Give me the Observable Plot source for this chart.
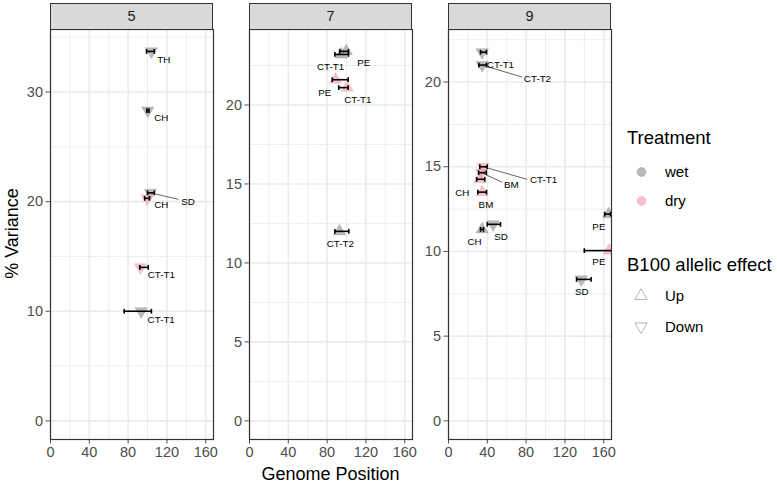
<!DOCTYPE html>
<html><head><meta charset="utf-8">
<script src="https://cdn.jsdelivr.net/npm/d3@7"></script>
<script src="https://cdn.jsdelivr.net/npm/@observablehq/plot@0.6"></script>
<style>
body{margin:0;background:#fff;font-family:"Liberation Sans",Arial,sans-serif;}
#chart{position:relative;width:777px;height:483px;overflow:hidden;background:#fff;}
.abs{position:absolute;}
.strip{position:absolute;background:#d9d9d9;border:1.2px solid #333;box-sizing:border-box;text-align:center;font-size:14.5px;color:#1a1a1a;}
</style></head><body><div id="chart"></div>
<script>
// ---- data ----
const chromosomes = [5, 7, 9];
const traits    = ["TH","CH","SD","CH","CT-T1","CT-T1", "CT-T1","PE","PE","CT-T1","CT-T2", "CT-T1","CT-T2","CT-T1","BM","CH","BM","CH","SD","PE","PE","SD"];
const chrom     = [5,5,5,5,5,5, 7,7,7,7,7, 9,9,9,9,9,9,9,9,9,9,9];
const treatment = ["wet","wet","wet","dry","dry","wet", "wet","wet","dry","dry","wet", "wet","wet","dry","dry","dry","dry","wet","wet","wet","dry","wet"];
const effect    = ["Down","Down","Down","Down","Down","Down", "Up","Up","Up","Up","Up", "Down","Down","Down","Down","Up","Up","Up","Down","Up","Up","Down"];
const position  = [104,100.3,103,99.7,92.8,93.5, 94.5,99.7,88.7,100.7,92.8, 34.7,34.7,35.7,34,32.3,34.7,34.7,46,165,165.5,136.8];
const posLow    = [99,99.3,100,97,92,76, 88,93,85.3,92,88, 33,31.3,32.3,31,29,30.2,33,40,161,140,132];
const posHigh   = [107,101.5,107,102,100.7,104, 102,102,101.7,101.7,102.4, 39.2,39.2,39.9,39,37.4,39.2,36,53.6,167,168.7,147];
const variance  = [33.7,28.3,20.8,20.3,14.0,10.0, 23.2,23.4,21.6,21.1,12.0, 21.76,21.0,15.0,14.65,14.26,13.5,11.3,11.6,12.2,10.05,8.35];
const treatments = ["wet","dry"];
const effects = ["Up","Down"];
const xTicks = [0,40,80,120,160];
const xMinor = [20,60,100,140];
const yTicks = [[0,10,20,30],[0,5,10,15,20],[0,5,10,15,20]];
const yMinor = [[5,15,25,35],[2.5,7.5,12.5,17.5,22.5],[2.5,7.5,12.5,17.5,22.5]];
const xLimit = 168;
const yMax = [34.0, 23.6, 22.0];

// ---- label layout (pixel offsets from point, like ggrepel placement) ----
const labelDx = [12.5,13.5,37.6,14,20.8,20, -10.7,17.6,-10.8,10.6,0.7, 18.3,55.3,60.4,29.8,-17.6,3.8,-7.7,8,-9.7,-10.2,0.5];
const labelDy = [8.2,7.1,8.8,6.7,7.2,8.7, 12.2,12,12.8,11.9,12.7, 12.2,13.3,13.3,12.3,13.7,12.5,12.7,12.5,12.7,11.2,12.3];
const segEnd = {2:[28,6.5], 12:[40,12], 13:[44,12.6], 14:[20.7,9.6]};

// ---- styles ----
const fillColor = {wet:"#8c8c8c", dry:"#ee9aab"};
const FONT = "Liberation Sans, Arial, sans-serif";

const rowsAll = traits.map((t,i)=>({trait:t, chrom:chrom[i], treatment:treatment[i], effect:effect[i],
  x:position[i], lo:posLow[i], hi:posHigh[i], y:variance[i], ldx:labelDx[i], ldy:labelDy[i], seg:segEnd[i]||null}));

const downTri = {draw(ctx, size){ const y = -Math.sqrt(size/(Math.sqrt(3)*3));
  ctx.moveTo(0,-2*y); ctx.lineTo(-Math.sqrt(3)*y, y); ctx.lineTo(Math.sqrt(3)*y, y); ctx.closePath(); }};
const upTri = {draw(ctx, size){ const y = -Math.sqrt(size/(Math.sqrt(3)*3));
  ctx.moveTo(0,2*y); ctx.lineTo(-Math.sqrt(3)*y, -y); ctx.lineTo(Math.sqrt(3)*y, -y); ctx.closePath(); }};
const capSym = {draw(ctx, size){ const h = Math.sqrt(size/Math.PI); ctx.moveTo(0,-h); ctx.lineTo(0,h); }};

const chart = document.getElementById("chart");
const W = 163, H = 410, panelTop = 29;
const panelLeft = [50, 249, 448];
const mL = 40, mR = 12, mT = 4, mB = 32;

chromosomes.forEach((c, i) => {
  const rows = rowsAll.filter(d => d.chrom === c);
  const y0 = -0.05*yMax[i], y1 = 1.05*yMax[i];
  const kx = W / xLimit, ky = H / (y1 - y0);
  const lx = d => d.x + d.ldx / kx, ly = d => d.y - d.ldy / ky;
  const segRows = rows.filter(d => d.seg);
  const svg = Plot.plot({
    width: mL + W + mR, height: mT + H + mB,
    marginLeft: mL, marginRight: mR, marginTop: mT, marginBottom: mB,
    style: {background: "transparent", overflow: "visible", fontFamily: FONT, fontSize: "14.5px", color: "#4d4d4d"},
    x: {domain: [0, xLimit], ticks: xTicks, tickSize: 4.5, tickPadding: 3, label: null, tickFormat: d => String(d)},
    y: {domain: [y0, y1], ticks: yTicks[i], tickSize: 4.5, tickPadding: 3, label: null, tickFormat: d => String(d)},
    marks: [
      Plot.ruleX(xMinor, {stroke: "#ebebeb", strokeWidth: 0.9}),
      Plot.ruleY(yMinor[i].filter(v => v < y1), {stroke: "#ebebeb", strokeWidth: 0.9}),
      Plot.ruleX(xTicks, {stroke: "#ebebeb", strokeWidth: 1.6}),
      Plot.ruleY(yTicks[i], {stroke: "#ebebeb", strokeWidth: 1.6}),
      Plot.dot(rows.filter(d => d.effect === "Up"), {x: "x", y: "y", symbol: upTri, r: 4.6,
        fill: d => fillColor[d.treatment], fillOpacity: 0.6, stroke: d => fillColor[d.treatment], strokeOpacity: 0.5, strokeWidth: 0.6, clip: true}),
      Plot.dot(rows.filter(d => d.effect === "Down"), {x: "x", y: "y", symbol: downTri, r: 4.6,
        fill: d => fillColor[d.treatment], fillOpacity: 0.6, stroke: d => fillColor[d.treatment], strokeOpacity: 0.5, strokeWidth: 0.6, clip: true}),
      Plot.ruleY(rows, {y: "y", x1: "lo", x2: "hi", stroke: "black", strokeWidth: 1.6, clip: true}),
      Plot.dot(rows, {x: "lo", y: "y", symbol: capSym, r: 2.4, fill: "none", stroke: "black", strokeWidth: 1.6, clip: true}),
      Plot.dot(rows, {x: "hi", y: "y", symbol: capSym, r: 2.4, fill: "none", stroke: "black", strokeWidth: 1.6, clip: true}),
      Plot.link(segRows, {x1: "x", y1: "y", x2: d => d.x + d.seg[0] / kx, y2: d => d.y - d.seg[1] / ky, stroke: "#222", strokeWidth: 0.7}),
      Plot.text(rows, {x: lx, y: ly, text: "trait", fontSize: 9.8, fill: "black"}),
      Plot.frame({stroke: "#333", strokeWidth: 1.2})
    ]
  });
  svg.style.position = "absolute";
  svg.style.left = (panelLeft[i] - mL) + "px";
  svg.style.top = (panelTop - mT) + "px";
  chart.appendChild(svg);
  const strip = document.createElement("div");
  strip.className = "strip";
  strip.style.left = panelLeft[i] + "px";
  strip.style.top = "3px";
  strip.style.width = W + "px";
  strip.style.height = (panelTop - 3 + 1) + "px";
  strip.style.lineHeight = (panelTop - 3 - 1) + "px";
  strip.textContent = String(c);
  chart.appendChild(strip);
});

// axis titles
const xt = document.createElement("div");
xt.className = "abs";
xt.style.cssText = `left:${(panelLeft[0] + panelLeft[2] + W)/2 - 100}px;width:200px;top:464px;text-align:center;font-size:18px;color:#000;`;
xt.textContent = "Genome Position";
chart.appendChild(xt);
const yt = document.createElement("div");
yt.className = "abs";
yt.style.cssText = `left:${12 - 100}px;width:200px;top:${panelTop + H/2 - 11}px;text-align:center;font-size:18px;color:#000;transform:rotate(-90deg);`;
yt.textContent = "% Variance";
chart.appendChild(yt);

// legend
const lg = d3.select(chart).append("svg").attr("width", 777).attr("height", 483)
  .style("position","absolute").style("left","0").style("top","0").style("pointer-events","none")
  .style("font-family", FONT);
lg.append("text").attr("x", 627).attr("y", 138).attr("dy", "0.35em").attr("font-size", 18.5).text("Treatment");
treatments.forEach((t, j) => {
  const cy = 172 + j*29;
  lg.append("circle").attr("cx", 641.5).attr("cy", cy).attr("r", 4.4)
    .attr("fill", fillColor[t]).attr("fill-opacity", 0.6).attr("stroke", fillColor[t]).attr("stroke-opacity", 0.5);
  lg.append("text").attr("x", 665).attr("y", cy).attr("dy", "0.35em").attr("font-size", 15).text(t);
});
lg.append("text").attr("x", 627).attr("y", 265).attr("dy", "0.35em").attr("font-size", 18.5).text("B100 allelic effect");
effects.forEach((e, j) => {
  const cy = 296 + j*30.5;
  const sym = e === "Up" ? upTri : downTri;
  lg.append("path").attr("transform", `translate(641,${cy})`)
    .attr("d", d3.symbol(sym, Math.PI*4.6*4.6)())
    .attr("fill", "none").attr("stroke", "#b3b3b3").attr("stroke-width", 1);
  lg.append("text").attr("x", 665).attr("y", cy).attr("dy", "0.35em").attr("font-size", 15).text(e);
});
</script></body></html>
